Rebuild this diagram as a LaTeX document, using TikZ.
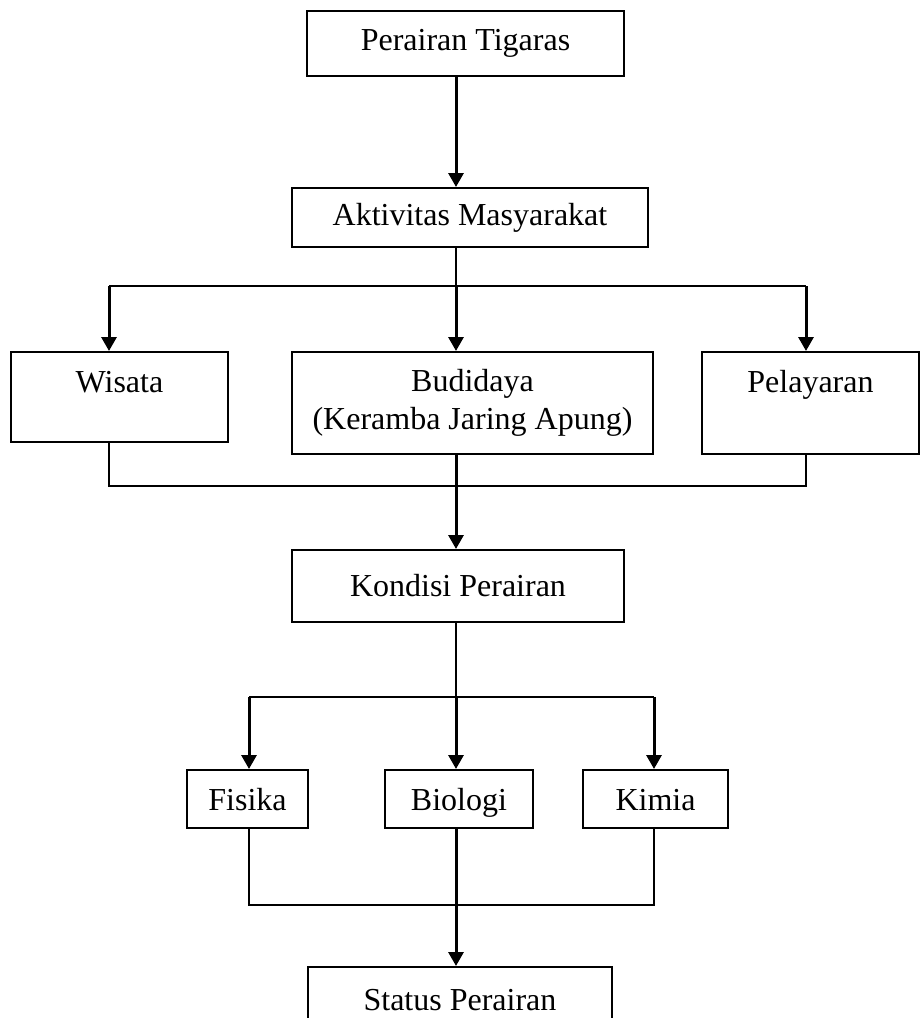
\documentclass[tikz,border=0pt]{standalone}
\usepackage{fontspec}
\setmainfont{Liberation Serif}
\usetikzlibrary{arrows.meta}

\tikzset{
  box/.style={draw, line width=1pt, inner sep=0pt, align=center,
    font=\fontsize{16}{19}\selectfont},
  topbox/.style={box, text height=20.25pt},
  rowbox/.style={box, text height=20pt, text depth=9pt},
  flow/.style={line width=1.5pt, -{Triangle[width=7.5pt,length=7pt]}},
  link/.style={line width=1pt},
  bus/.style={line width=1.2pt},
}

\begin{document}
\begin{tikzpicture}
  [x=0.5pt, y=-0.5pt]
  \useasboundingbox (0,0) rectangle (921,1018);
  \clip (0,0) rectangle (921,1018);

  % boxes
  \node[box, minimum width=158.5pt, minimum height=32.5pt] (tigaras) at (465.5,43.5) {Perairan Tigaras};
  \node[box, minimum width=178pt, minimum height=29.5pt] (aktivitas) at (470,217.5) {Aktivitas Masyarakat};

  \node[topbox, minimum width=108.5pt, text depth=24.75pt] (wisata) at (119.5,397) {Wisata};
  \node[box, minimum width=180.5pt, minimum height=51pt] (budidaya) at (472.5,403) {Budidaya\\(Keramba Jaring Apung)};
  \node[topbox, minimum width=108.5pt, text depth=30.75pt] (pelayaran) at (810.5,403) {Pelayaran};

  \node[box, minimum width=166pt, minimum height=36pt] (kondisi) at (458,586) {Kondisi Perairan};

  \node[rowbox, minimum width=60.5pt] (fisika) at (247.5,799) {Fisika};
  \node[rowbox, minimum width=74pt] (biologi) at (459,799) {Biologi};
  \node[rowbox, minimum width=72.5pt] (kimia) at (655.5,799) {Kimia};

  \node[box, minimum width=152pt, minimum height=33pt] (status) at (460,1000) {Status Perairan};

  % junctions
  \coordinate (hubA) at (456,286);
  \coordinate (wisataA) at (109,286);
  \coordinate (pelayaranA) at (806,286);
  \coordinate (hubB) at (456,486);
  \coordinate (wisataB) at (109,486);
  \coordinate (pelayaranB) at (806,486);
  \coordinate (hubC) at (456,697);
  \coordinate (fisikaC) at (249,697);
  \coordinate (kimiaC) at (654,697);
  \coordinate (hubD) at (456,905);
  \coordinate (fisikaD) at (249,905);
  \coordinate (kimiaD) at (654,905);

  % connectors
  \draw[flow] (tigaras.south -| hubA) -- (aktivitas.north -| hubA);
  \draw[bus] (aktivitas.south -| hubA) -- (hubA);
  \draw[bus] (wisataA) -- (pelayaranA);
  \draw[flow] (wisataA) -- (wisata.north -| wisataA);
  \draw[flow] (hubA) -- (budidaya.north -| hubA);
  \draw[flow] (pelayaranA) -- (pelayaran.north -| pelayaranA);

  \draw[link] (wisata.south -| wisataB) -- (wisataB) -- (pelayaranB) -- (pelayaran.south -| pelayaranB);
  \draw[flow] (budidaya.south -| hubB) -- (kondisi.north -| hubB);

  \draw[link] (kondisi.south -| hubC) -- (hubC);
  \draw[bus] (fisikaC) -- (kimiaC);
  \draw[flow] (fisikaC) -- (fisika.north -| fisikaC);
  \draw[flow] (hubC) -- (biologi.north -| hubC);
  \draw[flow] (kimiaC) -- (kimia.north -| kimiaC);

  \draw[link] (fisika.south -| fisikaD) -- (fisikaD) -- (kimiaD) -- (kimia.south -| kimiaD);
  \draw[flow] (biologi.south -| hubD) -- (status.north -| hubD);
\end{tikzpicture}
\end{document}
